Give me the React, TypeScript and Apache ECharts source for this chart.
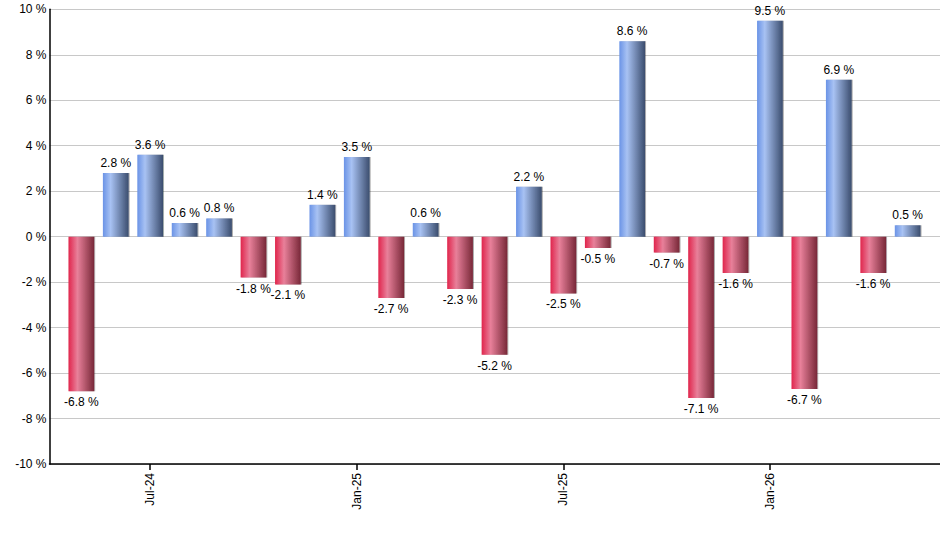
import React, { useEffect, useRef } from "react";
import * as echarts from "echarts";

const months = [
  "May-24", "Jun-24", "Jul-24", "Aug-24", "Sep-24", "Oct-24", "Nov-24", "Dec-24",
  "Jan-25", "Feb-25", "Mar-25", "Apr-25", "May-25", "Jun-25", "Jul-25", "Aug-25",
  "Sep-25", "Oct-25", "Nov-25", "Dec-25", "Jan-26", "Feb-26", "Mar-26", "Apr-26", "May-26",
];
const returns = [
  -6.8, 2.8, 3.6, 0.6, 0.8, -1.8, -2.1, 1.4, 3.5, -2.7, 0.6, -2.3, -5.2, 2.2, -2.5, -0.5,
  8.6, -0.7, -7.1, -1.6, 9.5, -6.7, 6.9, -1.6, 0.5,
];
const tickIndices = [2, 8, 14, 20];
const yTicks = [-10, -8, -6, -4, -2, 0, 2, 4, 6, 8, 10];

const FONT = "Arial, 'Liberation Sans', sans-serif";

const blueGrad = () =>
  new echarts.graphic.LinearGradient(0, 0, 1, 0, [
    { offset: 0, color: "#6a93e6" },
    { offset: 0.3, color: "#a8c2f3" },
    { offset: 1, color: "#3b4d6e" },
  ]);
const redGrad = () =>
  new echarts.graphic.LinearGradient(0, 0, 1, 0, [
    { offset: 0, color: "#e0254c" },
    { offset: 0.35, color: "#e8809a" },
    { offset: 1, color: "#782838" },
  ]);

export default function App() {
  const ref = useRef<HTMLDivElement>(null);
  useEffect(() => {
    if (!ref.current) return;
    const chart = echarts.init(ref.current, null, { renderer: "svg" });
    const data = returns.map((v, i) => ({
      value: [i, v],
      itemStyle: {
        color: v >= 0 ? blueGrad() : redGrad(),
        shadowColor: "rgba(0,0,0,0.35)",
        shadowOffsetX: 1,
        shadowOffsetY: 0,
        shadowBlur: 0,
      },
      label: {
        show: true,
        position: v >= 0 ? "top" : "bottom",
        distance: v >= 0 ? 4 : 5,
        formatter: () => `${v} %`,
        color: "#000",
        fontSize: 12,
        fontFamily: FONT,
      },
    }));
    chart.setOption({
      animation: false,
      backgroundColor: "#fff",
      grid: { left: 49.5, right: 0, top: 9.3, bottom: 86 },
      xAxis: {
        type: "value",
        min: -0.924,
        max: 24.94,
        splitLine: { show: false },
        axisLine: { show: true, onZero: false, lineStyle: { color: "#000", width: 1.5 } },
        axisTick: {
          show: true,
          customValues: tickIndices,
          length: 6,
          lineStyle: { color: "#000", width: 1.5 },
        },
        axisLabel: {
          show: true,
          customValues: tickIndices,
          rotate: 90,
          margin: 9,
          color: "#000",
          fontSize: 12,
          fontFamily: FONT,
          formatter: (val: number) => months[Math.round(val)] ?? "",
        },
      },
      yAxis: {
        type: "value",
        min: yTicks[0],
        max: yTicks[yTicks.length - 1],
        interval: 2,
        axisLine: { show: true, onZero: false, lineStyle: { color: "#000", width: 1.5 } },
        axisTick: { show: false },
        splitLine: { show: true, lineStyle: { color: "#c8c8c8", width: 1 } },
        axisLabel: {
          color: "#000",
          fontSize: 12,
          fontFamily: FONT,
          margin: 3,
          formatter: (v: number) => `${v} %`,
        },
      },
      series: [
        {
          type: "bar",
          barWidth: 25.7,
          data,
          z: 3,
        },
      ],
    });
    return () => chart.dispose();
  }, []);
  return (
    <div
      ref={ref}
      style={{ position: "absolute", left: 0, top: 0, width: 940, height: 550 }}
    />
  );
}
